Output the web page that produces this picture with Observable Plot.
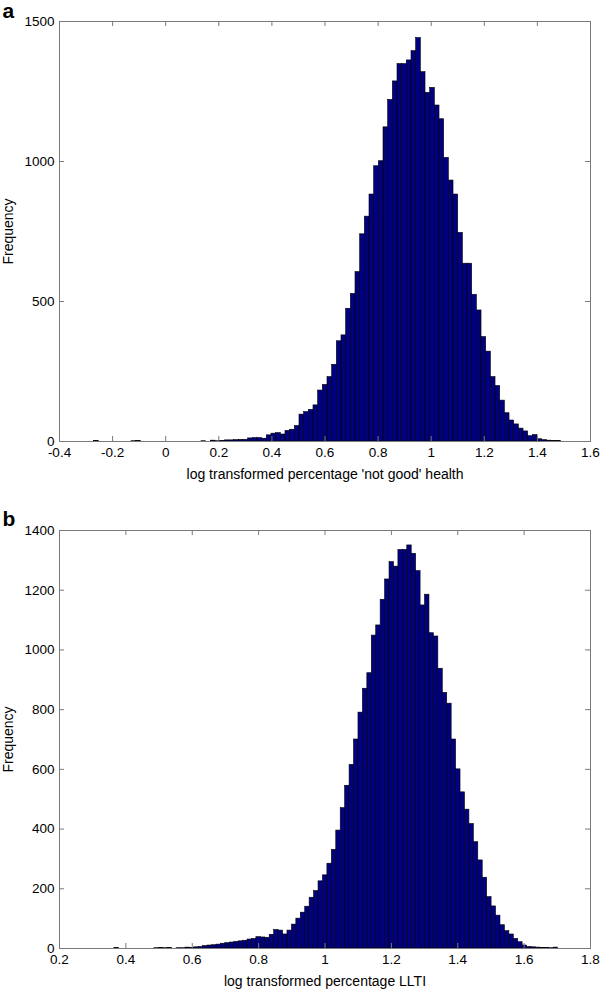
<!DOCTYPE html>
<html><head><meta charset="utf-8">
<script src="https://cdn.jsdelivr.net/npm/d3@7"></script>
<script src="https://cdn.jsdelivr.net/npm/@observablehq/plot@0.6"></script>
<style>
body{margin:0;background:#fff;width:600px;height:990px;position:relative;overflow:hidden;}
.panel{position:absolute;left:0;}
</style></head><body>
<div id="pa" class="panel" style="top:0"></div>
<div id="pb" class="panel" style="top:495px"></div>
<script>
// Panel a: log transformed percentage 'not good' health (100 bins)
const binLoA = -0.2696, binWidthA = 0.01758;
const countsA = [
  2,0,0,0,0,0,0,0,1,2,
  0,0,0,0,0,0,0,0,0,0,
  0,0,0,1,0,3,1,2,4,4,
  5,6,6,11,12,12,10,22,28,30,
  25,38,42,55,96,105,113,129,182,202,
  230,274,358,379,474,527,605,740,803,882,
  983,1001,1122,1220,1286,1348,1348,1361,1394,1441,
  1319,1245,1263,1200,1151,1013,932,882,745,635,
  635,524,468,373,321,230,198,146,101,75,
  61,46,36,19,23,8,5,3,2,2
];
const xTicksA = [-0.4,-0.2,0,0.2,0.4,0.6,0.8,1,1.2,1.4,1.6];
const yTicksA = [0,500,1000,1500];

// Panel b: log transformed percentage LLTI (100 bins)
const binLoB = 0.3655, binWidthB = 0.01337;
const countsB = [
  2,0,0,0,0,0,0,0,0,1,
  2,1,2,0,1,1,3,2,4,5,
  8,10,11,13,16,18,20,22,24,26,
  30,32,38,37,36,46,62,60,47,60,
  80,100,120,140,170,192,225,245,284,330,
  395,470,545,615,700,790,870,922,1048,1082,
  1168,1236,1294,1279,1335,1335,1350,1322,1264,1149,
  1185,1056,1045,937,856,820,700,600,523,465,
  417,356,295,237,172,141,110,78,58,47,
  32,21,10,5,4,3,2,2,1,3
];
const xTicksB = [0.2,0.4,0.6,0.8,1,1.2,1.4,1.6,1.8];
const yTicksB = [0,200,400,600,800,1000,1200,1400];

const FONT = '"Liberation Sans", Arial, Helvetica, sans-serif';
const AXIS = "#7a7a7a";

function panel(o) {
  const W = 600, mL = 59, mR = 10;
  const innerW = W - mL - mR;
  const innerH = o.height - o.marginTop - o.marginBottom;
  const bins = o.counts.map((c, i) => ({x1: o.lo + i * o.w, x2: o.lo + (i + 1) * o.w, y: c}));
  const fmt = d => String(Math.round(d * 10) / 10);
  return Plot.plot({
    width: W, height: o.height,
    marginTop: o.marginTop, marginBottom: o.marginBottom, marginLeft: mL, marginRight: mR,
    style: {fontFamily: FONT, fontSize: "13.5px", color: "#000", background: "#fff", overflow: "visible"},
    x: {domain: o.xDomain},
    y: {domain: o.yDomain},
    marks: [
      Plot.rectY(bins, {x1: "x1", x2: "x2", y: "y", fill: "#000080", stroke: "#000", strokeWidth: 0.6}),
      Plot.frame({stroke: AXIS}),
      Plot.ruleX(o.xTicks, {stroke: AXIS, insetTop: innerH - 5}),
      Plot.ruleX(o.xTicks, {stroke: AXIS, insetBottom: innerH - 5}),
      Plot.ruleY(o.yTicks, {stroke: AXIS, insetRight: innerW - 5}),
      Plot.ruleY(o.yTicks, {stroke: AXIS, insetLeft: innerW - 5}),
      Plot.axisX(o.xTicks, {tickSize: 0, tickPadding: 6, tickFormat: fmt, label: null}),
      Plot.axisY(o.yTicks, {tickSize: 0, tickPadding: 5, tickFormat: d => String(d), label: null}),
      Plot.text([o.xLabel], {frameAnchor: "bottom", dy: 33, fontSize: 14, fill: "#000", textAnchor: "middle", lineAnchor: "middle"}),
      Plot.text(["Frequency"], {frameAnchor: "left", dx: -50.5, rotate: -90, fontSize: 14, fill: "#000", textAnchor: "middle", lineAnchor: "middle"}),
      Plot.text([o.tag], {frameAnchor: "top-left", dx: -57, dy: o.tagDy, fontWeight: "bold", fontSize: 21, textAnchor: "start", lineAnchor: "middle", fill: "#000"})
    ]
  });
}

document.getElementById("pa").append(panel({
  counts: countsA, lo: binLoA, w: binWidthA,
  xDomain: [-0.4, 1.6], xTicks: xTicksA, yDomain: [0, 1500], yTicks: yTicksA,
  xLabel: "log transformed percentage 'not good' health", tag: "a", tagDy: -9.8,
  height: 495, marginTop: 21, marginBottom: 54
}));
document.getElementById("pb").append(panel({
  counts: countsB, lo: binLoB, w: binWidthB,
  xDomain: [0.2, 1.8], xTicks: xTicksB, yDomain: [0, 1400], yTicks: yTicksB,
  xLabel: "log transformed percentage LLTI", tag: "b", tagDy: -11.7,
  height: 495, marginTop: 35, marginBottom: 42
}));
</script>
</body></html>
